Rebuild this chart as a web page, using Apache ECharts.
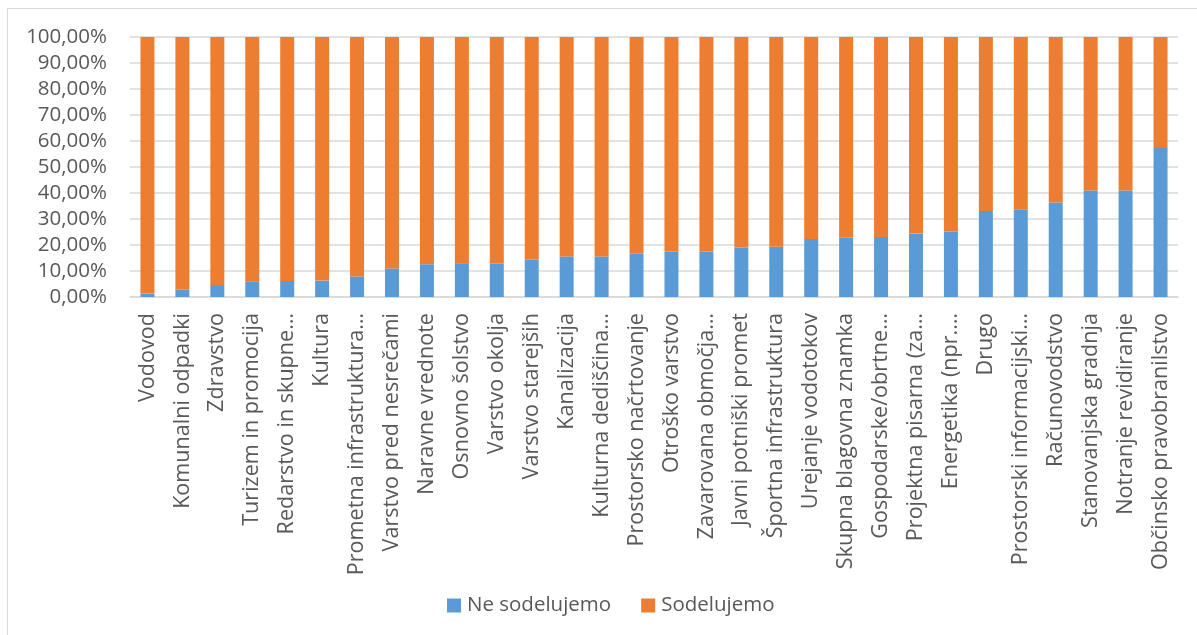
<!DOCTYPE html>
<html>
<head>
<meta charset="utf-8">
<script src="https://cdn.jsdelivr.net/npm/echarts@6/dist/echarts.min.js"></script>
<style>
html,body{margin:0;padding:0;background:#fff;}
#frame{position:absolute;left:7px;top:8px;width:1190px;height:627px;border-left:1px solid #d9d9d9;border-top:1px solid #d9d9d9;box-sizing:border-box;}
#chart{position:absolute;left:0;top:0;width:1197px;height:635px;}
</style>
</head>
<body>
<div id="frame"></div>
<div id="chart"></div>
<script>
const categories = ["Vodovod","Komunalni odpadki","Zdravstvo","Turizem in promocija","Redarstvo in skupne…","Kultura","Prometna infrastruktura…","Varstvo pred nesrečami","Naravne vrednote","Osnovno šolstvo","Varstvo okolja","Varstvo starejših","Kanalizacija","Kulturna dediščina…","Prostorsko načrtovanje","Otroško varstvo","Zavarovana območja…","Javni potniški promet","Športna infrastruktura","Urejanje vodotokov","Skupna blagovna znamka","Gospodarske/obrtne…","Projektna pisarna (za…","Energetika (npr.…","Drugo","Prostorski informacijski…","Računovodstvo","Stanovanjska gradnja","Notranje revidiranje","Občinsko pravobranilstvo"];
const neSodelujemo = [1.3, 2.9, 4.6, 5.9, 6.2, 6.3, 7.9, 11.0, 12.6, 13.0, 12.9, 14.3, 15.6, 15.6, 16.8, 17.5, 17.5, 19.1, 19.3, 22.3, 22.9, 23.1, 24.4, 25.2, 33.1, 33.6, 36.3, 41.0, 41.0, 57.3];
const sodelujemo = [98.7, 97.1, 95.4, 94.1, 93.8, 93.7, 92.1, 89.0, 87.4, 87.0, 87.1, 85.7, 84.4, 84.4, 83.2, 82.5, 82.5, 80.9, 80.7, 77.7, 77.1, 76.9, 75.6, 74.8, 66.9, 66.4, 63.7, 59.0, 59.0, 42.7];
const seriesNames = ["Ne sodelujemo", "Sodelujemo"];

const chart = echarts.init(document.getElementById('chart'));
const textColor = '#595959';
const font = '"Open Sans", sans-serif';
const fs = 20.5;
chart.setOption({
  animation: false,
  color: ['#5B9BD5', '#ED7D31'],
  textStyle: { fontFamily: font },
  grid: { left: 130, right: 19, top: 37, bottom: 338 },
  legend: {
    data: seriesNames,
    bottom: 19,
    left: 447,
    padding: 0,
    itemWidth: 14, itemHeight: 14, itemGap: 30,
    icon: 'rect',
    textStyle: { color: textColor, fontSize: fs, fontFamily: font, padding: [0,0,0,1] }
  },
  xAxis: {
    type: 'category',
    data: categories,
    axisLine: { lineStyle: { color: '#d9d9d9', width: 1.5 } },
    axisTick: { show: false },
    axisLabel: { rotate: 90, interval: 0, color: textColor, fontSize: 21.6, fontFamily: font, margin: 16 }
  },
  yAxis: {
    type: 'value',
    min: 0, max: 100, interval: 10,
    axisLine: { show: false },
    axisTick: { show: false },
    splitLine: { lineStyle: { color: '#d9d9d9', width: 1.5 } },
    axisLabel: {
      color: textColor, fontSize: fs, fontFamily: font, margin: 23,
      formatter: v => v.toFixed(2).replace('.', ',') + '%'
    }
  },
  series: [
    { name: seriesNames[0], type: 'bar', stack: 'total', data: neSodelujemo, barWidth: 14 },
    { name: seriesNames[1], type: 'bar', stack: 'total', data: sodelujemo, barWidth: 14 }
  ]
});
</script>
</body>
</html>
